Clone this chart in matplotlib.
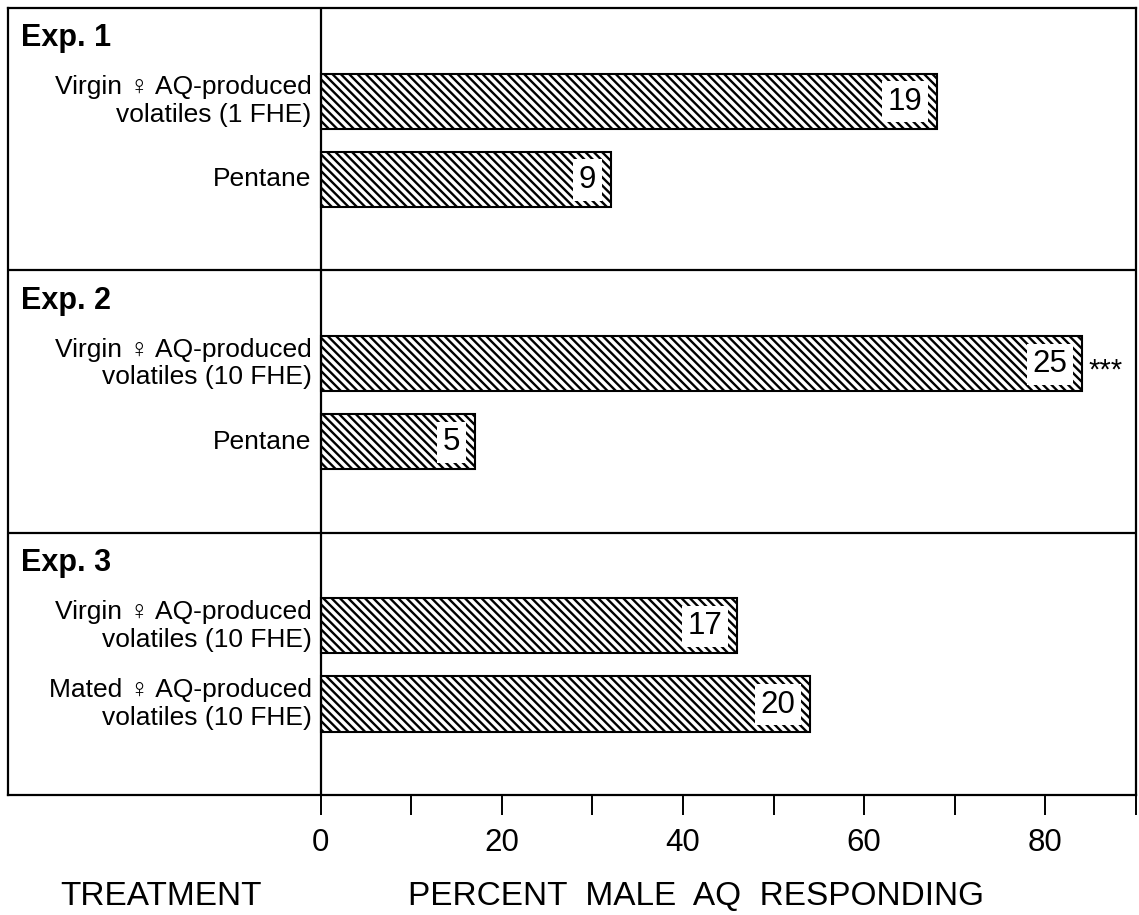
import matplotlib
matplotlib.use('Agg')
import matplotlib.pyplot as plt
from matplotlib.ticker import FixedLocator, NullFormatter

# --- data ---

experiments = ['Exp. 1', 'Exp. 2', 'Exp. 3']
treatments = [
    ['Virgin \u2640 AQ-produced\nvolatiles (1 FHE)', 'Pentane'],
    ['Virgin \u2640 AQ-produced\nvolatiles (10 FHE)', 'Pentane'],
    ['Virgin \u2640 AQ-produced\nvolatiles (10 FHE)', 'Mated \u2640 AQ-produced\nvolatiles (10 FHE)'],
]
percent_responding = [[68, 32], [84, 17], [46, 54]]
n_males = [[19, 9], [25, 5], [17, 20]]
significance = [['', ''], ['***', ''], ['', '']]

major_ticks = [0, 20, 40, 60, 80]
minor_ticks = [10, 30, 50, 70, 90]

# --- style ---

plt.rcParams['font.family'] = ['Liberation Sans', 'DejaVu Sans']
plt.rcParams['hatch.linewidth'] = 1.7
plt.rcParams['hatch.color'] = 'black'

BAR_OFFSETS = [0.355, 0.653]
BAR_HEIGHT = 0.21

fig = plt.figure(figsize=(11.39, 9.15), dpi=100)
ax = fig.add_axes([8 / 1139, 120 / 915, 1128 / 1139, 787 / 915])

for i, exp in enumerate(experiments):
    ax.text(-33.1, i + 0.115, exp, fontsize=22, fontweight='bold',
            ha='left', va='center')
    for j in range(2):
        y = i + BAR_OFFSETS[j]
        value = percent_responding[i][j]
        ax.barh(y, value, height=BAR_HEIGHT, left=0, color='white',
                edgecolor='black', linewidth=1.5, hatch='\\\\\\\\')
        ax.annotate(treatments[i][j], (0, y), xytext=(-6.5, 0),
                    textcoords='offset points', ha='right', va='center',
                    fontsize=19, linespacing=1.18)
        ax.annotate(str(n_males[i][j]), (value, y), xytext=(-10.5, -0.5),
                    textcoords='offset points', ha='right', va='center',
                    fontsize=22.5,
                    bbox=dict(boxstyle='square,pad=0.18', fc='white', ec='none'))
        if significance[i][j]:
            ax.annotate(significance[i][j], (value, y), xytext=(5, -5),
                        textcoords='offset points', ha='left', va='center',
                        fontsize=21)

# panel separators and the zero line
for sep in [1, 2]:
    ax.axhline(sep, color='black', linewidth=1.6)
ax.axvline(0, color='black', linewidth=1.6)

ax.set_xlim(-34.5, 90)
ax.set_ylim(3, 0)

ax.yaxis.set_visible(False)
ax.xaxis.set_major_locator(FixedLocator(major_ticks))
ax.xaxis.set_minor_locator(FixedLocator(minor_ticks))
ax.xaxis.set_minor_formatter(NullFormatter())
ax.tick_params(axis='x', which='both', direction='out', length=14.5,
               width=1.4, labelsize=22.5, pad=9)

for spine in ax.spines.values():
    spine.set_linewidth(1.6)

fig.text(161 / 1139, 10 / 915, 'TREATMENT', fontsize=24, ha='center',
         va='baseline')
fig.text(408 / 1139, 10 / 915, 'PERCENT  MALE  AQ  RESPONDING', fontsize=24,
         ha='left', va='baseline')

fig.savefig('out.png', dpi=100)
